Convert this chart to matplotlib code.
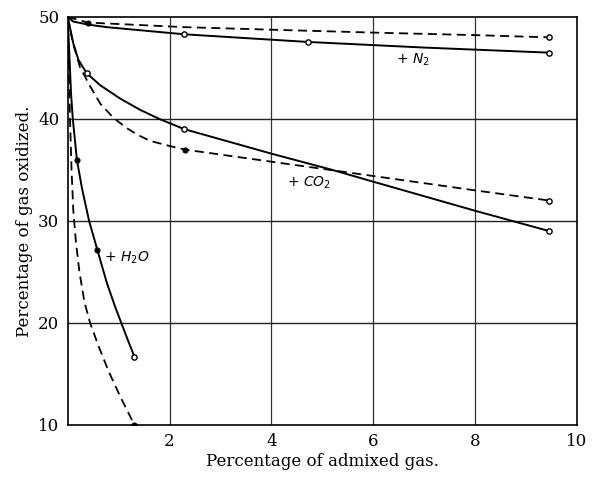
import matplotlib
matplotlib.use("Agg")
import matplotlib.pyplot as plt

# N2
n2_solid_x = [0, 0.11, 0.4, 0.77, 1.42, 2.29, 4.72, 7.0, 9.46]
n2_solid_y = [50, 49.55, 49.25, 49.0, 48.7, 48.3, 47.55, 47.0, 46.5]
n2_solid_open_x = [2.29, 4.72, 9.46]
n2_solid_open_y = [48.3, 47.55, 46.5]
n2_dash_x = [0, 0.4, 2.3, 4.7, 6.14, 8.0, 9.46]
n2_dash_y = [50, 49.45, 49.0, 48.65, 48.45, 48.22, 48.0]
n2_dash_open_x = [9.46]
n2_dash_open_y = [48.0]
n2_dash_dot_x = [0.4]
n2_dash_dot_y = [49.45]

# CO2
co2_solid_x = [0, 0.11, 0.21, 0.37, 0.64, 1.03, 1.42, 1.8, 2.29, 4.0, 5.2, 6.0, 8.0, 9.46]
co2_solid_y = [50, 47.4, 45.8, 44.5, 43.3, 42.0, 40.9, 40.0, 39.0, 36.6, 35.0, 33.85, 31.0, 29.0]
co2_solid_open_x = [0.37, 2.29, 9.46]
co2_solid_open_y = [44.5, 39.0, 29.0]
co2_dash_x = [0, 0.1, 0.24, 0.44, 0.64, 0.9, 1.16, 1.39, 1.62, 2.0, 2.3, 3.2, 5.2, 6.04, 8.0, 9.46]
co2_dash_y = [50, 47.5, 45.1, 43.2, 41.5, 40.1, 39.1, 38.4, 37.85, 37.35, 37.0, 36.37, 34.97, 34.38, 33.0, 32.0]
co2_dash_open_x = [9.46]
co2_dash_open_y = [32.0]
co2_dash_dot_x = [2.3]
co2_dash_dot_y = [37.0]

# H2O
h2o_solid_x = [0, 0.065, 0.1, 0.18, 0.28, 0.42, 0.58, 0.77, 0.93, 1.06, 1.19, 1.31]
h2o_solid_y = [50, 42.5, 40, 36, 33.2, 30, 27.2, 23.9, 21.6, 19.9, 18.2, 16.7]
h2o_solid_dot_x = [0.18, 0.58]
h2o_solid_dot_y = [36, 27.2]
h2o_solid_open_x = [1.31]
h2o_solid_open_y = [16.7]
h2o_dash_x = [0, 0.02, 0.045, 0.075, 0.11, 0.16, 0.23, 0.33, 0.44, 0.6, 0.8, 1.03, 1.22, 1.31]
h2o_dash_y = [50, 45, 40, 35, 31, 28, 25, 22, 20, 17.8, 15.3, 12.8, 10.9, 10]
h2o_dash_dot_x = [1.31]
h2o_dash_dot_y = [10]

x_ticks = [2, 4, 6, 8, 10]
y_ticks = [10, 20, 30, 40, 50]

labels = ["+ N$_2$", "+ CO$_2$", "+ H$_2$O"]
label_pos = [(6.78, 45.8), (4.73, 33.7), (1.15, 26.4)]

fig = plt.figure(figsize=(5.93, 4.82), dpi=100)
ax = fig.add_axes([0.1142, 0.1183, 0.8588, 0.8465])
ax.set_xlim(0, 10)
ax.set_ylim(10, 50)

for v in [2, 4, 6, 8]:
    ax.axvline(v, color="#333333", lw=0.9, zorder=1)
for v in [20, 30, 40]:
    ax.axhline(v, color="#222222", lw=1.0, zorder=1)

solid_kw = dict(color="black", lw=1.4, zorder=3, solid_joinstyle="round")
dash_kw = dict(color="black", lw=1.3, ls=(0, (5, 3)), zorder=3, dash_joinstyle="round")
open_kw = dict(ls="none", marker="o", ms=3.8, mfc="white", mec="black", mew=1.0, zorder=4)
dot_kw = dict(ls="none", marker="o", ms=3.6, mfc="black", mec="black", mew=0.8, zorder=4)

ax.plot(n2_solid_x, n2_solid_y, **solid_kw)
ax.plot(co2_solid_x, co2_solid_y, **solid_kw)
ax.plot(h2o_solid_x, h2o_solid_y, **solid_kw)
ax.plot(n2_dash_x, n2_dash_y, **dash_kw)
ax.plot(co2_dash_x, co2_dash_y, **dash_kw)
ax.plot(h2o_dash_x, h2o_dash_y, **dash_kw)

ax.plot(n2_solid_open_x, n2_solid_open_y, **open_kw)
ax.plot(n2_dash_open_x, n2_dash_open_y, **open_kw)
ax.plot(n2_dash_dot_x, n2_dash_dot_y, **dot_kw)
ax.plot(co2_solid_open_x, co2_solid_open_y, **open_kw)
ax.plot(co2_dash_open_x, co2_dash_open_y, **open_kw)
ax.plot(co2_dash_dot_x, co2_dash_dot_y, **dot_kw)
ax.plot(h2o_solid_dot_x, h2o_solid_dot_y, **dot_kw)
ax.plot(h2o_solid_open_x, h2o_solid_open_y, **open_kw)
ax.plot(h2o_dash_dot_x, h2o_dash_dot_y, **dot_kw)

for t, (lx, ly) in zip(labels, label_pos):
    ax.text(lx, ly, t, ha="center", va="center", fontsize=10,
            family="DejaVu Sans", style="italic", zorder=5)

ax.set_xticks(x_ticks)
ax.set_yticks(y_ticks)
ax.tick_params(length=0, labelsize=12, pad=6)
for lab in ax.get_xticklabels() + ax.get_yticklabels():
    lab.set_family("DejaVu Serif")
for s in ax.spines.values():
    s.set_linewidth(1.2)

ax.set_xlabel("Percentage of admixed gas.", fontsize=12, family="DejaVu Serif", labelpad=2)
ax.set_ylabel("Percentage of gas oxidized.", fontsize=12, family="DejaVu Serif", labelpad=4)

fig.savefig("out.png", dpi=100)
